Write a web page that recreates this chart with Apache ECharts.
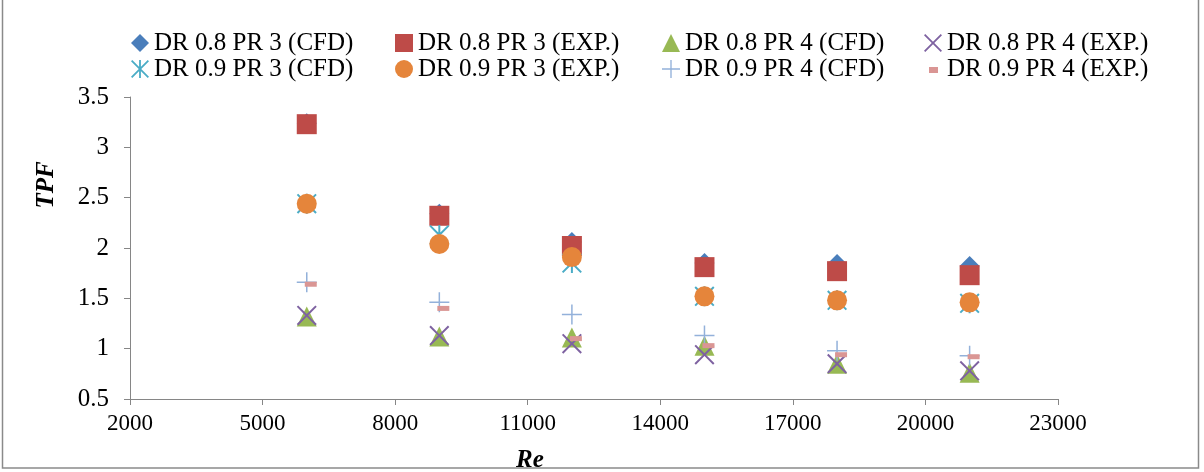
<!DOCTYPE html>
<html>
<head>
<meta charset="utf-8">
<script src="https://cdn.jsdelivr.net/npm/echarts@6/dist/echarts.min.js"></script>
<style>
  html, body { margin: 0; padding: 0; background: #fff; }
  #chart { width: 1204px; height: 472px; }
</style>
</head>
<body>
<div id="chart"></div>
<script>
// Reynolds numbers of the test points
const reValues = [6000, 9000, 12000, 15000, 18000, 21000];

// Thermal performance factor per case
const dr08pr3Cfd = [3.24, 2.34, 2.06, 1.85, 1.84, 1.82];
const dr08pr3Exp = [3.23, 2.32, 2.02, 1.81, 1.77, 1.73];
const dr08pr4Cfd = [1.32, 1.12, 1.11, 1.03, 0.85, 0.76];
const dr08pr4Exp = [1.33, 1.13, 1.05, 0.94, 0.85, 0.78];
const dr09pr3Cfd = [2.44, 2.13, 1.85, 1.52, 1.48, 1.45];
const dr09pr3Exp = [2.44, 2.04, 1.91, 1.52, 1.48, 1.46];
const dr09pr4Cfd = [1.66, 1.46, 1.34, 1.13, 0.98, 0.93];
const dr09pr4Exp = [1.64, 1.40, 1.10, 1.03, 0.94, 0.92];

// Axis tick values
const xTicks = [2000, 5000, 8000, 11000, 14000, 17000, 20000, 23000];
const yTicks = [0.5, 1, 1.5, 2, 2.5, 3, 3.5];

const seriesNames = [
  'DR 0.8 PR 3 (CFD)', 'DR 0.8 PR 3 (EXP.)', 'DR 0.8 PR 4 (CFD)', 'DR 0.8 PR 4 (EXP.)',
  'DR 0.9 PR 3 (CFD)', 'DR 0.9 PR 3 (EXP.)', 'DR 0.9 PR 4 (CFD)', 'DR 0.9 PR 4 (EXP.)'
];
const seriesValues = [dr08pr3Cfd, dr08pr3Exp, dr08pr4Cfd, dr08pr4Exp,
                      dr09pr3Cfd, dr09pr3Exp, dr09pr4Cfd, dr09pr4Exp];

// Marker shapes
const crossPath = 'path://M0,1.4L1.4,0L10,8.6L18.6,0L20,1.4L11.4,10L20,18.6L18.6,20L10,11.4L1.4,20L0,18.6L8.6,10Z';
const starPath = crossPath + 'M9,0h2v20h-2z';
const plusPath = 'path://M9.25,0h1.5v20h-1.5zM0,9.25h20v1.5h-20z';
const dashLegendPath = 'path://M0,0M18,18M5,7h9v6h-9z';

const markers = [
  { symbol: 'diamond', size: 20, color: '#4A7EBB' },
  { symbol: 'rect', size: 20, color: '#BE4B48' },
  { symbol: 'triangle', size: 20, color: '#98B954' },
  { symbol: crossPath, size: 20, color: '#7E62A1' },
  { symbol: starPath, size: 20, color: '#4AACC6' },
  { symbol: 'circle', size: 20, color: '#E5853B' },
  { symbol: plusPath, size: 20, color: '#93B1DA' },
  { symbol: 'rect', size: [12, 5], color: '#DA9694', offset: [4, 0] }
];

const series = seriesNames.map((name, i) => ({
  name: name,
  type: 'scatter',
  symbol: markers[i].symbol,
  symbolSize: markers[i].size,
  symbolOffset: markers[i].offset || [0, 0],
  itemStyle: { color: markers[i].color, opacity: 1 },
  emphasis: { disabled: true },
  data: reValues.map((re, j) => [re, seriesValues[i][j]])
}));

const font = 'Liberation Serif, Times New Roman, serif';
const legendCols = [126, 390, 657, 919];

const legends = legendCols.map((left, c) => ({
  orient: 'vertical',
  left: left,
  top: 25,
  itemWidth: 18,
  itemHeight: 18,
  itemGap: 0,
  selectedMode: false,
  textStyle: { fontFamily: font, fontSize: 25, color: '#000', lineHeight: 26 },
  data: [c, c + 4].map(k => {
    const item = { name: seriesNames[k] };
    if (k === 7) item.icon = dashLegendPath;
    return item;
  })
}));

const titleStyle = { fontFamily: font, fontSize: 25, fontWeight: 'bold', fontStyle: 'italic', fill: '#000' };

const chart = echarts.init(document.getElementById('chart'), null, { renderer: 'canvas' });
chart.setOption({
  animation: false,
  backgroundColor: '#fff',
  legend: legends,
  grid: { left: 130, right: 146, top: 97, bottom: 73 },
  xAxis: {
    type: 'value',
    min: 2000,
    max: 23000,
    splitLine: { show: false },
    axisLine: { show: true, lineStyle: { color: '#868686', width: 1 } },
    axisTick: { show: true, length: 6, inside: false, customValues: xTicks, lineStyle: { color: '#868686' } },
    axisLabel: { customValues: xTicks, formatter: v => String(v), margin: 13, fontFamily: font, fontSize: 23, color: '#000' }
  },
  yAxis: {
    type: 'value',
    min: 0.5,
    max: 3.5,
    interval: 0.5,
    splitLine: { show: false },
    axisLine: { show: true, lineStyle: { color: '#868686', width: 1 } },
    axisTick: { show: true, length: 6, inside: false, customValues: yTicks, lineStyle: { color: '#868686' } },
    axisLabel: { customValues: yTicks, formatter: v => String(v), margin: 21, fontFamily: font, fontSize: 25, color: '#000' }
  },
  graphic: [
    {
      type: 'rect',
      silent: true,
      shape: { x: 2.5, y: -2, width: 1196, height: 470 },
      style: { fill: 'none', stroke: '#8A8A8A', lineWidth: 1.5 }
    },
    {
      type: 'text',
      silent: true,
      x: 47, y: 185,
      rotation: Math.PI / 2,
      style: Object.assign({ text: 'TPF', align: 'center', verticalAlign: 'middle' }, titleStyle)
    },
    {
      type: 'text',
      silent: true,
      x: 530, y: 461,
      style: Object.assign({ text: 'Re', align: 'center', verticalAlign: 'middle' }, titleStyle)
    }
  ],
  series: series
});
</script>
</body>
</html>
